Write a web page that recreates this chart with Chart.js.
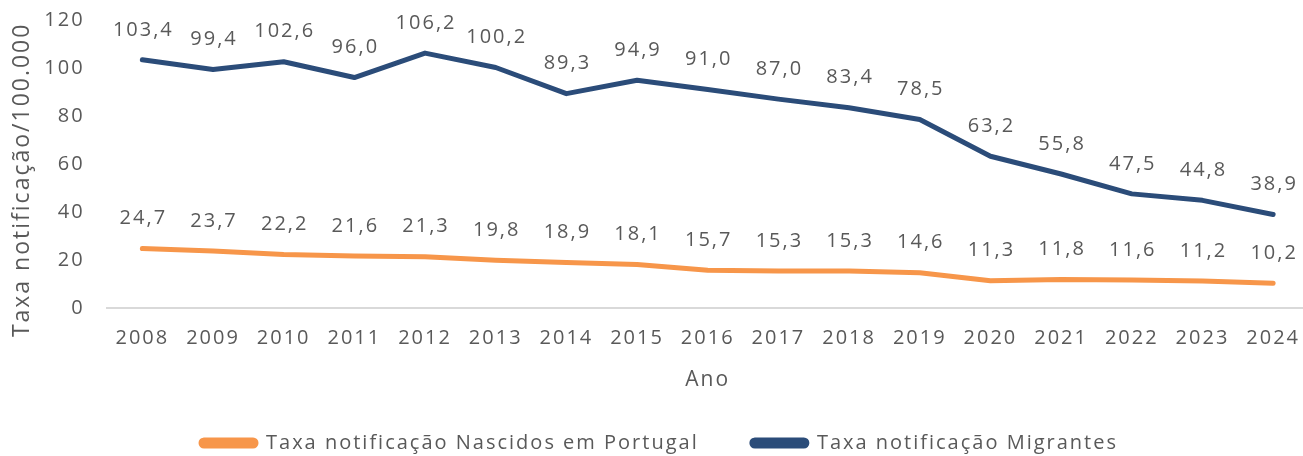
<!DOCTYPE html>
<html>
<head>
<meta charset="utf-8">
<script src="https://cdn.jsdelivr.net/npm/chart.js@4"></script>
<style>
  html, body { margin: 0; padding: 0; background: #fff; overflow: hidden; }
  #wrap { width: 1310px; height: 456px; }
</style>
</head>
<body>
<div id="wrap"><canvas id="chart"></canvas></div>
<script>
const anos = ["2008", "2009", "2010", "2011", "2012", "2013", "2014", "2015", "2016",
  "2017", "2018", "2019", "2020", "2021", "2022", "2023", "2024"];
const nascidosPortugal = [24.7, 23.7, 22.2, 21.6, 21.3, 19.8, 18.9, 18.1, 15.7,
  15.3, 15.3, 14.6, 11.3, 11.8, 11.6, 11.2, 10.2];
const migrantes = [103.4, 99.4, 102.6, 96.0, 106.2, 100.2, 89.3, 94.9, 91.0,
  87.0, 83.4, 78.5, 63.2, 55.8, 47.5, 44.8, 38.9];
const yTicks = [0, 20, 40, 60, 80, 100, 120];

const FONT = "'Open Sans', sans-serif";
const GREY = "#595959";

// wider text, closer to the original face
const spacing = {
  id: "spacing",
  beforeLayout(chart) { chart.ctx.letterSpacing = "2px"; },
  beforeDraw(chart) { chart.ctx.letterSpacing = "2px"; }
};

// Data labels above each point (no datalabels plugin available offline)
const valueLabels = {
  id: "valueLabels",
  afterDatasetsDraw(chart) {
    const ctx = chart.ctx;
    ctx.save();
    ctx.font = "20px " + FONT;
    ctx.fillStyle = GREY;
    ctx.textAlign = "center";
    ctx.textBaseline = "middle";
    chart.data.datasets.forEach((ds, i) => {
      chart.getDatasetMeta(i).data.forEach((pt, j) => {
        const txt = ds.data[j].toFixed(1).replace(".", ",");
        ctx.fillText(txt, pt.x + 1, pt.y - 30);
      });
    });
    ctx.restore();
  }
};

new Chart(document.getElementById("chart"), {
  type: "line",
  data: {
    labels: anos,
    datasets: [
      {
        label: "Taxa notificação Nascidos em Portugal",
        data: nascidosPortugal,
        borderColor: "#F7964A",
        backgroundColor: "#F7964A",
        borderWidth: 5,
        pointRadius: 0,
        tension: 0,
        borderCapStyle: "round",
        borderJoinStyle: "round"
      },
      {
        label: "Taxa notificação Migrantes",
        data: migrantes,
        borderColor: "#2B4C79",
        backgroundColor: "#2B4C79",
        borderWidth: 5,
        pointRadius: 0,
        tension: 0,
        borderCapStyle: "round",
        borderJoinStyle: "round"
      }
    ]
  },
  options: {
    responsive: true,
    maintainAspectRatio: false,
    animation: false,
    layout: { padding: { top: 0, left: 9, right: 0, bottom: -7 } },
    plugins: {
      tooltip: { enabled: false },
      legend: {
        position: "bottom",
        labels: {
          font: { family: FONT, size: 20 },
          color: GREY,
          boxWidth: 55,
          boxHeight: 6,
          useBorderRadius: true,
          borderRadius: 3,
          padding: 10,
          generateLabels(chart) {
            const items = Chart.defaults.plugins.legend.labels.generateLabels(chart);
            items[0].text += "      ";
            return items;
          }
        }
      }
    },
    scales: {
      x: {
        offset: true,
        grid: { display: false },
        border: { display: true, color: "#D9D9D9", width: 2 },
        ticks: { font: { family: FONT, size: 20 }, color: GREY, padding: 10, maxRotation: 0 },
        title: { display: true, text: "Ano", font: { family: FONT, size: 21 }, color: GREY, padding: { top: 8, bottom: 30 } }
      },
      y: {
        min: 0,
        max: 120,
        afterBuildTicks(axis) { axis.ticks = yTicks.map(v => ({ value: v })); },
        afterFit(axis) { axis.width = 98; },
        grid: { display: false, drawTicks: false },
        border: { display: false },
        ticks: { font: { family: FONT, size: 20 }, color: GREY, padding: 8, callback: v => v + "  " },
        title: { display: true, text: "Taxa notificação/100.000    ", font: { family: FONT, size: 23 }, color: GREY, padding: { top: 0, bottom: 0 } }
      }
    }
  },
  plugins: [spacing, valueLabels]
});
</script>
</body>
</html>
